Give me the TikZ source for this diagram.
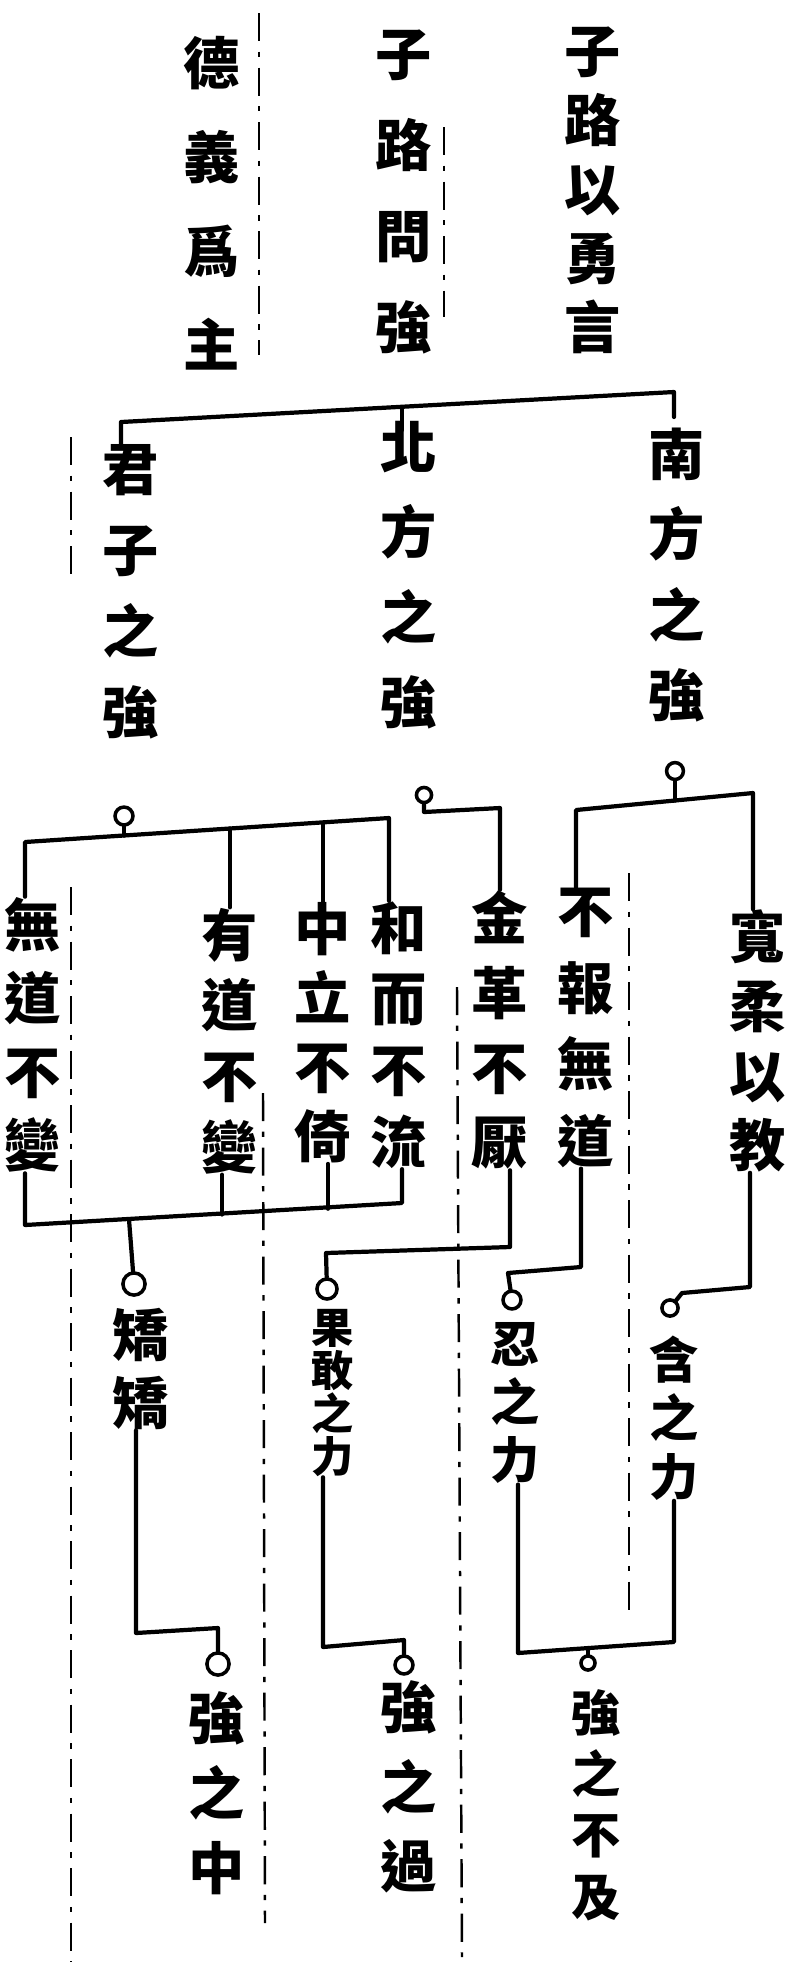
\documentclass[tikz,border=0pt]{standalone}
\usepackage{fontspec}
\newfontfamily\cjk{Noto Sans CJK TC}
\usetikzlibrary{calc}

\tikzset{
  col/.style={inner sep=0pt, align=center, font=\cjk\bfseries\fontsize{16}{#1}\selectfont},
  smallcol/.style={inner sep=0pt, align=center, font=\cjk\bfseries\fontsize{14}{#1}\selectfont},
  tinycol/.style={inner sep=0pt, align=center, font=\cjk\bfseries\fontsize{12}{#1}\selectfont},
  link/.style={line width=1.2pt, line cap=round, line join=round},
  ring/.style={draw, circle, line width=1pt, inner sep=0pt, minimum size=#1},
  ring/.default=5pt,
  rule/.style={line width=0.7pt, dash pattern=on 8pt off 3pt on 1.5pt off 3pt}
}

\begin{document}
\begin{tikzpicture}[x=0.01cm, y=-0.01cm]
    \useasboundingbox (0,0) rectangle (798,1968);
    \fill[white] (0,0) rectangle (798,1968);

        %Linhas de coluna
    \draw[rule] (71,437) -- (71,583);
    \draw[rule] (71,887) -- (71,1962);
    \draw[rule] (259,13) -- (259,355);
    \draw[rule] (263,1093) -- (265,1923);
    \draw[rule] (444,127) -- (444,317);
    \draw[rule] (457,987) -- (462,1957);
    \draw[rule] (629,873) -- (629,1612);

        %Topo
    \node[col=19.6pt] (yong) at (593,190) {子\\路\\以\\勇\\言};
    \node[col=25.8pt] (wen) at (404,192) {子\\路\\問\\強};
    \node[col=26.7pt] (deyi) at (212,203) {德\\義\\爲\\主};

        %Tres fortes
    \node[col=23pt] (junzi) at (131,592) {君\\子\\之\\強};
    \node[col=24.2pt] (beifang) at (409,575) {北\\方\\之\\強};
    \node[col=22.8pt] (nanfang) at (677,575) {南\\方\\之\\強};

    \coordinate (t1) at (121,422);
    \coordinate (t2) at (674,392);
    \coordinate (t3) at (402,407);
    \draw[link] (121,447) -- (t1) -- (t2) -- (674,417);
    \draw[link] (t3) -- (402,430);

        %Junzi
    \node[col=20.9pt] (wudao) at (33,1035) {無\\道\\不\\變};
    \node[col=20.1pt] (youdao) at (230,1041) {有\\道\\不\\變};
    \node[col=19.6pt] (zhongli) at (323,1033) {中\\立\\不\\倚};
    \node[col=20.3pt] (heer) at (399,1035) {和\\而\\不\\流};

    \node[ring=5.1pt] (r1) at (124,816) {};
    \coordinate (k0) at (25,842);
    \coordinate (k1) at (124,835.5);
    \coordinate (k2) at (230,828.5);
    \coordinate (k3) at (323,822.7);
    \coordinate (k4) at (389,818);
    \draw[link] (wudao.north -| k0) -- (k0) -- (k4) -- (heer.north -| k4);
    \draw[link] (r1) -- (k1);
    \draw[link] (k2) -- (youdao.north);
    \draw[link] (k3) -- (zhongli.north);

        %Beifang
    \node[col=21.3pt] (jinge) at (500,1030) {金\\革\\不\\厭};
    \node[ring=4.3pt] (r2) at (424,795) {};
    \coordinate (g0) at (424,812);
    \coordinate (g1) at (500,808);
    \draw[link] (r2) -- (g0) -- (g1) -- (jinge.north);

        %Nanfang
    \node[col=21.8pt] (bubao) at (586,1028) {不\\報\\無\\道};
    \node[col=19.7pt] (kuanrou) at (758,1041) {寬\\柔\\以\\教};
    \node[ring=4.8pt] (r3) at (675,771) {};
    \coordinate (n0) at (576,810);
    \coordinate (n1) at (675,800.5);
    \coordinate (n2) at (753,793);
    \draw[link] (bubao.north -| n0) -- (n0) -- (n2) -- (kuanrou.north -| n2);
    \draw[link] (r3) -- (n1);

        %Jiaojiao
    \node[col=19.3pt] (jiao) at (141,1369) {矯\\矯};
    \node[ring=6.3pt] (r4) at (134,1284) {};
    \coordinate (m0) at (25,1225);
    \coordinate (m1) at (129,1219.3);
    \coordinate (m2) at (222,1214.5);
    \coordinate (m3) at (328,1208.7);
    \coordinate (m4) at (402,1203);
    \draw[link] (wudao.south -| m0) -- (m0) -- (m4) -- (heer.south -| m4);
    \draw[link] (youdao.south -| m2) -- (m2);
    \draw[link] (zhongli.south -| m3) -- (m3);
    \draw[link] (m1) -- (r4);

        %Guogan
    \node[tinycol=12.2pt] (guogan) at (333,1393) {果\\敢\\之\\力};
    \node[ring=5.7pt] (r6) at (327,1289) {};
    \coordinate (p0) at (510,1247);
    \coordinate (p1) at (326,1253);
    \draw[link] (jinge.south -| p0) -- (p0) -- (p1) -- (r6);

        %Ren e han
    \node[smallcol=16.6pt] (ren) at (515,1403) {忍\\之\\力};
    \node[smallcol=16.6pt] (han) at (674,1418) {含\\之\\力};
    \node[ring=5.1pt] (r8) at (512,1300) {};
    \node[ring=4.6pt] (r9) at (670,1308) {};
    \coordinate (u0) at (581,1267);
    \coordinate (u1) at (508,1273);
    \draw[link] (bubao.south -| u0) -- (u0) -- (u1) -- (r8);
    \coordinate (v0) at (750,1287);
    \coordinate (v1) at (682,1293);
    \draw[link] (kuanrou.south -| v0) -- (v0) -- (v1) -- (r9);

        %Base
    \node[col=21.3pt] (zhong) at (217,1793) {強\\之\\中};
    \node[col=22.6pt] (guo) at (409,1787) {強\\之\\過};
    \node[smallcol=17.4pt] (buji) at (596,1805) {強\\之\\不\\及};

    \node[ring=6.3pt] (r5) at (218,1664) {};
    \coordinate (q0) at (136,1633);
    \coordinate (q1) at (218,1628);
    \draw[link] (jiao.south -| q0) -- (q0) -- (q1) -- (r5);

    \node[ring=5.1pt] (r7) at (404,1665) {};
    \coordinate (s0) at (323,1647);
    \coordinate (s1) at (404,1640);
    \draw[link] (guogan.south -| s0) -- (s0) -- (s1) -- (r7);

    \node[ring=4pt] (r10) at (588,1663) {};
    \coordinate (w0) at (518,1653);
    \coordinate (w1) at (588,1648);
    \coordinate (w2) at (674,1642);
    \draw[link] (ren.south -| w0) -- (w0) -- (w2) -- (han.south -| w2);
    \draw[link] (w1) -- (r10);

\end{tikzpicture}
\end{document}
